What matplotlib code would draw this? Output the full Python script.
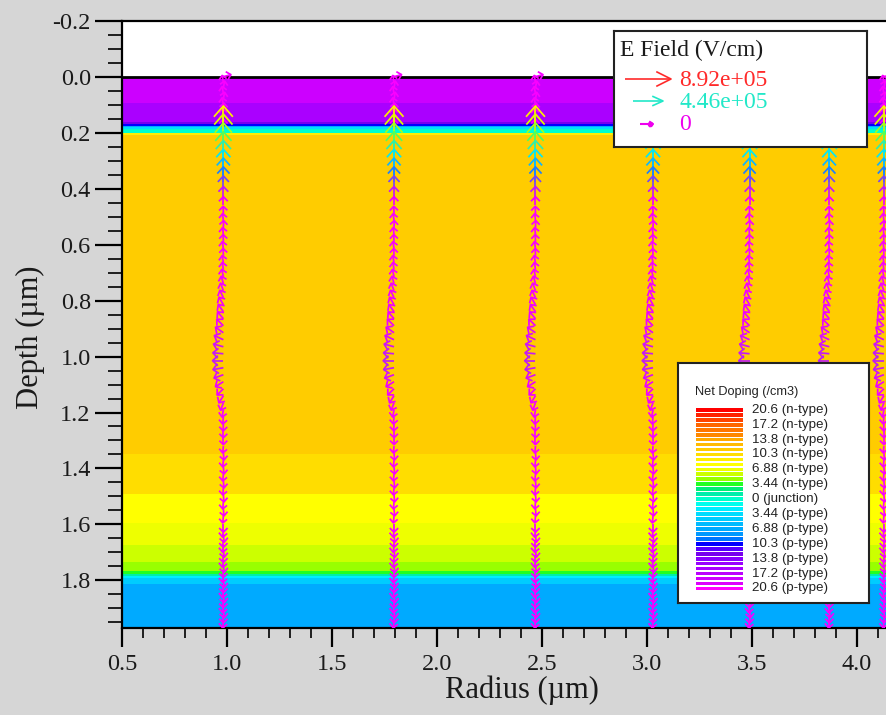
import numpy as np
import matplotlib
matplotlib.use("Agg")
import matplotlib.pyplot as plt
from matplotlib.colors import ListedColormap, BoundaryNorm, LinearSegmentedColormap
from matplotlib.collections import LineCollection
from matplotlib.transforms import IdentityTransform
from matplotlib.ticker import MultipleLocator, FormatStrFormatter

plt.rcParams["axes.unicode_minus"] = False

W, H, DPI = 886, 715, 100
SERIF = "Liberation Serif"
SANS = "Liberation Sans"

# ---------------- net doping layers (depth in um, doping in legend units, n-type > 0)
layer_edges = [0.0, 0.095, 0.163, 0.170, 0.176, 0.181, 0.186, 0.203, 0.209,
               1.347, 1.491, 1.594, 1.673, 1.735, 1.767, 1.778, 1.785, 1.792,
               1.812, 1.97]
layer_doping = [-18.31, -16.02, -12.59, -10.30, -6.87, -3.43, 0.0, 9.16,
                11.44, 10.30, 8.01, 6.87, 5.72, 4.58, 3.43, 1.14, -2.29,
                -4.58, -6.87]

# palette from 20.6 (n-type) down to 20.6 (p-type)
doping_palette = [
    "#ff0000", "#ff2200", "#ff4400", "#ff6600", "#ff7700", "#ff8800",
    "#ffaa00", "#ffbb00", "#ffcc00", "#ffdd00", "#ffee00", "#ffff00",
    "#eeff00", "#ccff00", "#99ff00", "#22ff22", "#00ee77", "#00eeaa",
    "#00ffcc", "#00ffee", "#00eeff", "#00ddff", "#00ccff", "#00bbff",
    "#00aaff", "#0099ff", "#0077ff", "#0000ff", "#5500ff", "#7700ee",
    "#8800ff", "#9900ff", "#aa00ff", "#bb00ff", "#cc00ff", "#dd00ff",
    "#ff00ff",
]
doping_labels = ["20.6 (n-type)", "17.2 (n-type)", "13.8 (n-type)",
                 "10.3 (n-type)", "6.88 (n-type)", "3.44 (n-type)",
                 "0 (junction)", "3.44 (p-type)", "6.88 (p-type)",
                 "10.3 (p-type)", "13.8 (p-type)", "17.2 (p-type)",
                 "20.6 (p-type)"]
doping_max = 20.6

# ---------------- electric field along the mesh columns
column_r = [0.983, 1.796, 2.470, 3.030, 3.490, 3.870, 4.130]

# field magnitude in 1e5 V/cm, direction in degrees (90 = toward the surface)
surface_depth = [0.000, 0.020, 0.040, 0.060, 0.080, 0.100, 0.120, 0.140, 0.160, 0.180]
surface_mag = [0.6, 0.3, 0.3, 0.3, 0.3, 0.3, 0.4, 0.4, 0.5, 0.6]
surface_dir = [15, 100, 80, 100, 80, 100, 85, 95, 90, 90]

junction_depth = [0.200, 0.225, 0.250, 0.275, 0.300, 0.325, 0.350, 0.375, 0.400, 0.430, 0.460]
junction_mag = [6.9, 6.5, 5.9, 5.3, 4.7, 4.1, 3.5, 2.9, 2.2, 1.5, 0.9]
junction_dir = [90, 90, 90, 90, 90, 90, 90, 90, 90, 90, 90]

upper_depth = [0.490, 0.515, 0.540, 0.565, 0.590, 0.615, 0.640, 0.665, 0.690,
               0.715, 0.740, 0.765, 0.790]
upper_mag = [0.5, 0.4, 0.4, 0.4, 0.4, 0.4, 0.4, 0.4, 0.45, 0.5, 0.6, 0.7, 0.75]
upper_dir = [92, 96, 88, 96, 92, 98, 92, 100, 98, 102, 105, 110, 115]

lateral_depth = [0.815, 0.840, 0.865, 0.890, 0.915, 0.940, 0.965, 0.990, 1.015,
                 1.040, 1.065, 1.090, 1.115, 1.140, 1.165, 1.190, 1.215, 1.240,
                 1.265, 1.290]
lateral_mag = [0.9, 0.95, 1.0, 1.1, 1.2, 1.3, 1.4, 1.5, 1.6, 1.5, 1.3, 1.1,
               0.95, 0.8, 0.65, 0.5, 0.45, 0.4, 0.35, 0.3]
lateral_dir = [120, 125, 130, 135, 145, 155, 165, 175, 180, 190, 200, 212,
               225, 238, 250, 260, 265, 268, 270, 270]

lower_depth = [1.320, 1.345, 1.370, 1.395, 1.420, 1.445, 1.470, 1.495, 1.520,
               1.545, 1.570]
lower_mag = [0.3, 0.3, 0.3, 0.3, 0.3, 0.3, 0.3, 0.3, 0.3, 0.3, 0.3]
lower_dir = [265, 275, 265, 275, 265, 275, 265, 275, 265, 275, 265]

deep_depth = [1.600, 1.618, 1.636, 1.654, 1.672, 1.690, 1.708, 1.726, 1.744,
              1.762, 1.780, 1.798, 1.816, 1.834, 1.852, 1.870, 1.888, 1.906,
              1.924, 1.942, 1.960]
deep_mag = [0.6, 0.6, 0.6, 0.6, 0.6, 0.6, 0.6, 0.6, 0.6, 0.6, 0.6, 0.6, 0.6,
            0.6, 0.6, 0.6, 0.6, 0.6, 0.6, 0.6, 0.6]
deep_dir = [270, 265, 275, 270, 265, 275, 270, 265, 275, 270, 265, 275, 270,
            265, 275, 270, 265, 275, 270, 265, 275]

field_max = 8.92
legend_field_text = ["8.92e+05", "4.46e+05", "0"]
legend_field_color = ["#ff2a2a", "#22e8c8", "#ee00ee"]

node_depth = (surface_depth + junction_depth + upper_depth + lateral_depth
              + lower_depth + deep_depth)
field_mag = surface_mag + junction_mag + upper_mag + lateral_mag + lower_mag + deep_mag
field_dir = surface_dir + junction_dir + upper_dir + lateral_dir + lower_dir + deep_dir

field_cmap = LinearSegmentedColormap.from_list(
    "efield",
    [(0.0, "#ff00ff"), (0.12, "#ee00ff"), (0.22, "#9933ee"), (0.33, "#1a80ff"),
     (0.45, "#00e5ff"), (0.50, "#22e8c8"), (0.60, "#55ff55"), (0.70, "#ccff00"),
     (0.78, "#ffee00"), (0.88, "#ff9900"), (1.0, "#ff0000")])

# ---------------- figure
fig = plt.figure(figsize=(W / DPI, H / DPI), dpi=DPI, facecolor="#d6d6d6")
ax = fig.add_axes([122 / W, 1 - 628 / H, (W - 122) / W, (628 - 20.7) / H])
ax.set_facecolor("white")
ax.set_xlim(0.5, 4.14)
ax.set_ylim(1.97, -0.2)

# doping layers
step = 2 * doping_max / (len(doping_palette) - 1)
bounds = np.linspace(-doping_max - step / 2, doping_max + step / 2, len(doping_palette) + 1)
dop_cmap = ListedColormap(doping_palette[::-1])
dop_norm = BoundaryNorm(bounds, dop_cmap.N)
ax.pcolormesh([0.5, 4.3], layer_edges, np.array(layer_doping)[:, None],
              cmap=dop_cmap, norm=dop_norm, shading="flat", zorder=0.5)
ax.axhline(0.0, color="black", lw=2.0, zorder=2.5)


def chevron(L, theta, hl, hw):
    """Shaft and open head of one arrow, in pixels relative to its tail."""
    ux, uy = np.cos(np.radians(theta)), np.sin(np.radians(theta))
    tip = np.array([L * ux, L * uy])
    base = tip - hl * np.array([ux, uy])
    nrm = np.array([-uy, ux]) * hw
    return [np.array([[0.0, 0.0], tip]), np.array([base + nrm, tip, base - nrm])]


segs, offs, cols = [], [], []
for r in column_r:
    for d, m, a in zip(node_depth, field_mag, field_dir):
        L = 6.0 + 3.0 * m
        hl = 0.35 * L + 1.5
        hw = 0.28 * L + 2.0
        c = field_cmap(min(m / field_max, 1.0))
        for s in chevron(L, a, hl, hw):
            segs.append(s)
            offs.append((r, d))
            cols.append(c)

arrows = LineCollection(segs, offsets=offs, offset_transform=ax.transData,
                        transform=IdentityTransform(), colors=cols,
                        linewidths=1.25, zorder=3)
ax.add_collection(arrows, autolim=False)

# axes styling
for side in ("left", "top", "bottom"):
    ax.spines[side].set_linewidth(1.6)
    ax.spines[side].set_color("black")
ax.spines["right"].set_visible(False)

ax.yaxis.set_major_locator(MultipleLocator(0.2))
ax.yaxis.set_minor_locator(MultipleLocator(0.05))
ax.xaxis.set_major_locator(MultipleLocator(0.5))
ax.xaxis.set_minor_locator(MultipleLocator(0.1))
ax.yaxis.set_major_formatter(FormatStrFormatter("%.1f"))
ax.xaxis.set_major_formatter(FormatStrFormatter("%.1f"))
ax.tick_params(axis="y", which="major", direction="out", length=19.5, width=1.6,
               pad=3, labelsize=17.5, labelcolor="#1a1a1a")
ax.tick_params(axis="y", which="minor", direction="out", length=10, width=1.2)
ax.tick_params(axis="x", which="major", direction="out", length=13.5, width=1.6,
               pad=5, labelsize=17.5, labelcolor="#1a1a1a")
ax.tick_params(axis="x", which="minor", direction="out", length=7, width=1.2)
for lbl in ax.get_xticklabels() + ax.get_yticklabels():
    lbl.set_fontfamily(SERIF)

ax.set_xlabel("Radius (\u00b5m)", fontsize=22, family=SERIF, color="#1a1a1a")
ax.set_ylabel("Depth (\u00b5m)", fontsize=22, family=SERIF, color="#1a1a1a")
ax.xaxis.set_label_coords(0.5236, -0.102)
ax.yaxis.set_label_coords(-0.12, 0.479)
ax.xaxis.label.set_va("center")
ax.yaxis.label.set_va("center")

# ---------------- E field legend
ef = fig.add_axes([614 / W, 1 - 147 / H, 253 / W, 116 / H], zorder=5)
ef.set_xlim(0, 253)
ef.set_ylim(116, 0)
ef.set_facecolor("white")
ef.set_xticks([])
ef.set_yticks([])
for sp in ef.spines.values():
    sp.set_linewidth(1.5)
    sp.set_color("#222222")
ef.text(6, 19, "E Field (V/cm)", fontsize=17, family=SERIF, color="#1a1a1a",
        va="center", ha="left")


def legend_arrow(axl, x0, x1, y, hl, hw, color, lw=1.2):
    axl.plot([x0, x1], [y, y], color=color, lw=lw, solid_capstyle="butt")
    axl.plot([x1 - hl, x1, x1 - hl], [y - hw, y, y + hw], color=color, lw=lw)


legend_arrow(ef, 11, 57, 48, 14, 7, legend_field_color[0])
legend_arrow(ef, 19, 49, 70, 10, 4.5, legend_field_color[1])
legend_arrow(ef, 26, 39, 93, 3, 2, legend_field_color[2], lw=1.5)
ef.plot([36], [93], "o", ms=3, color=legend_field_color[2])
for txt, col, y in zip(legend_field_text, legend_field_color, [49, 71, 94]):
    ef.text(65, y, txt, fontsize=17, family=SERIF, color=col, va="center", ha="left")

# ---------------- net doping legend
nd = fig.add_axes([678 / W, 1 - 603 / H, 191 / W, 240 / H], zorder=5)
nd.set_xlim(0, 191)
nd.set_ylim(240, 0)
nd.set_facecolor("white")
nd.set_xticks([])
nd.set_yticks([])
for sp in nd.spines.values():
    sp.set_linewidth(1.5)
    sp.set_color("#222222")
nd.text(17, 29, "Net Doping (/cm3)", fontsize=9.2, family=SANS, color="#222222",
        va="center", ha="left")
sw_y = 45 + 4.96 * np.arange(len(doping_palette))
nd.barh(sw_y, 47, height=3.7, left=18, align="edge", color=doping_palette,
        edgecolor="none")
for j, lbl in enumerate(doping_labels):
    nd.text(74, 46.85 + 14.88 * j, lbl, fontsize=9.6, family=SANS,
            color="#222222", va="center", ha="left")

fig.savefig("out.png", dpi=DPI, facecolor=fig.get_facecolor())
